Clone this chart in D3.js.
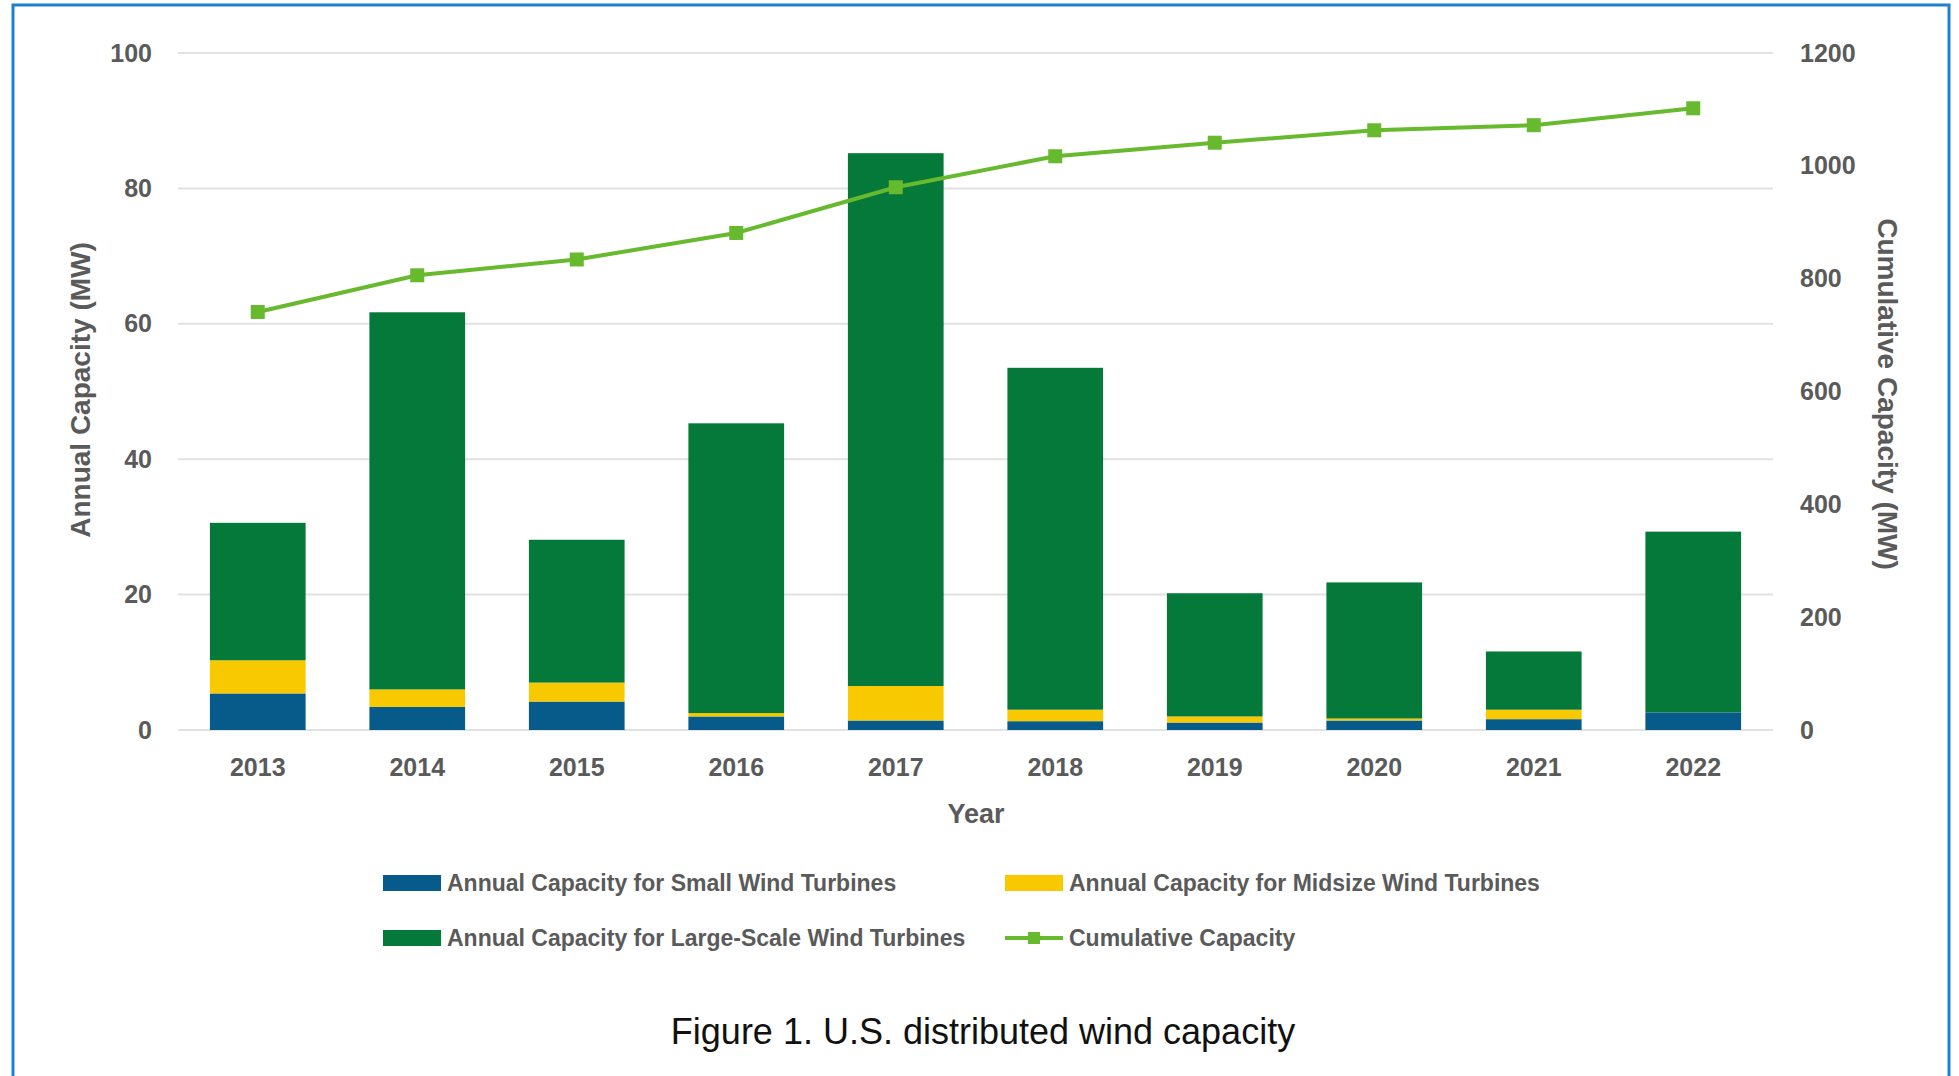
<!DOCTYPE html>
<html>
<head>
<meta charset="utf-8">
<script src="https://d3js.org/d3.v7.min.js"></script>
<style>
  body { margin: 0; background: #fff; }
  svg text { font-family: "Liberation Sans", Arial, sans-serif; }
</style>
</head>
<body>
<script>
var years = ['2013', '2014', '2015', '2016', '2017', '2018', '2019', '2020', '2021', '2022'];
var smallWind = [5.4, 3.4, 4.2, 2.0, 1.4, 1.3, 1.1, 1.4, 1.6, 2.6];
var midsizeWind = [4.9, 2.6, 2.8, 0.5, 5.1, 1.7, 0.9, 0.3, 1.4, 0.0];
var largeWind = [20.3, 55.7, 21.1, 42.8, 78.7, 50.5, 18.2, 20.1, 8.6, 26.7];
var cumulative = [741, 806, 834, 881, 962, 1017, 1041, 1063, 1072, 1102];
var leftTicks = [0, 20, 40, 60, 80, 100];
var rightTicks = [0, 200, 400, 600, 800, 1000, 1200];

var seriesNames = [
  'Annual Capacity for Small Wind Turbines',
  'Annual Capacity for Midsize Wind Turbines',
  'Annual Capacity for Large-Scale Wind Turbines'
];
var lineName = 'Cumulative Capacity';
var colors = ['#065b8b', '#f9c900', '#05793a'];
var lineColor = '#67b92e';
var textColor = '#5a5a5a';

var W = 1959, H = 1076;
var plotL = 178, plotR = 1773, plotT = 53, plotB = 730;

var svg = d3.select('body').append('svg')
  .attr('width', W)
  .attr('height', H);

// frame
svg.append('rect')
  .attr('x', 13).attr('y', 5)
  .attr('width', 1936).attr('height', 1100)
  .attr('fill', 'none')
  .attr('stroke', '#1f80d2')
  .attr('stroke-width', 3);

var x = d3.scaleBand().domain(years).range([plotL, plotR]).paddingInner(0.4).paddingOuter(0.2);
var y = d3.scaleLinear().domain([0, 100]).range([plotB, plotT]);
var y2 = d3.scaleLinear().domain([0, 1200]).range([plotB, plotT]);

// gridlines
svg.append('g').selectAll('line')
  .data(leftTicks)
  .enter().append('line')
    .attr('x1', plotL).attr('x2', plotR)
    .attr('y1', function(d) { return y(d); })
    .attr('y2', function(d) { return y(d); })
    .attr('stroke', '#e2e2e2')
    .attr('stroke-width', 2);

// stacked bars
var table = years.map(function(yr, i) {
  return { year: yr, s: smallWind[i], m: midsizeWind[i], l: largeWind[i] };
});
var stack = d3.stack().keys(['s', 'm', 'l'])(table);

svg.append('g').selectAll('g')
  .data(stack)
  .enter().append('g')
    .attr('fill', function(d, i) { return colors[i]; })
  .selectAll('rect')
  .data(function(d) { return d; })
  .enter().append('rect')
    .attr('x', function(d) { return x(d.data.year); })
    .attr('width', x.bandwidth())
    .attr('y', function(d) { return y(d[1]); })
    .attr('height', function(d) { return y(d[0]) - y(d[1]); });

// cumulative line
var line = d3.line()
  .x(function(d, i) { return x(years[i]) + x.bandwidth() / 2; })
  .y(function(d) { return y2(d); });

svg.append('path')
  .datum(cumulative)
  .attr('d', line)
  .attr('fill', 'none')
  .attr('stroke', lineColor)
  .attr('stroke-width', 4);

svg.append('g').selectAll('rect')
  .data(cumulative)
  .enter().append('rect')
    .attr('x', function(d, i) { return x(years[i]) + x.bandwidth() / 2 - 7; })
    .attr('y', function(d) { return y2(d) - 7; })
    .attr('width', 14)
    .attr('height', 14)
    .attr('fill', lineColor);

// axes
var axisL = svg.append('g')
  .attr('transform', 'translate(' + plotL + ',0)')
  .call(d3.axisLeft(y).tickValues(leftTicks).tickSize(0).tickPadding(26));
var axisR = svg.append('g')
  .attr('transform', 'translate(' + plotR + ',0)')
  .call(d3.axisRight(y2).tickValues(rightTicks).tickFormat(d3.format('d')).tickSize(0).tickPadding(27));
var axisB = svg.append('g')
  .attr('transform', 'translate(0,' + plotB + ')')
  .call(d3.axisBottom(x).tickSize(0).tickPadding(28));

[axisL, axisR, axisB].forEach(function(a) {
  a.select('.domain').remove();
  a.selectAll('text')
    .attr('fill', textColor)
    .style('font-size', '25px')
    .style('font-weight', 'bold')
    .style('font-family', '"Liberation Sans", Arial, sans-serif');
});

// axis titles
svg.append('text')
  .attr('transform', 'translate(90,390) rotate(-90)')
  .attr('text-anchor', 'middle')
  .attr('fill', textColor)
  .style('font-size', '28px')
  .style('font-weight', 'bold')
  .text('Annual Capacity (MW)');

svg.append('text')
  .attr('transform', 'translate(1878,394) rotate(90)')
  .attr('text-anchor', 'middle')
  .attr('fill', textColor)
  .style('font-size', '28px')
  .style('font-weight', 'bold')
  .text('Cumulative Capacity (MW)');

svg.append('text')
  .attr('x', 976).attr('y', 823)
  .attr('text-anchor', 'middle')
  .attr('fill', textColor)
  .style('font-size', '27px')
  .style('font-weight', 'bold')
  .text('Year');

// legend
var legendItems = [
  { name: seriesNames[0], color: colors[0], x: 383, y: 883, kind: 'bar' },
  { name: seriesNames[1], color: colors[1], x: 1005, y: 883, kind: 'bar' },
  { name: seriesNames[2], color: colors[2], x: 383, y: 938, kind: 'bar' },
  { name: lineName, color: lineColor, x: 1005, y: 938, kind: 'line' }
];

var legend = svg.append('g').selectAll('g')
  .data(legendItems)
  .enter().append('g')
    .attr('transform', function(d) { return 'translate(' + d.x + ',' + d.y + ')'; });

legend.filter(function(d) { return d.kind === 'bar'; })
  .append('rect')
    .attr('x', 0).attr('y', -8)
    .attr('width', 58).attr('height', 16)
    .attr('fill', function(d) { return d.color; });

var lineItems = legend.filter(function(d) { return d.kind === 'line'; });
lineItems.append('line')
  .attr('x1', 0).attr('x2', 58)
  .attr('stroke', function(d) { return d.color; })
  .attr('stroke-width', 4);
lineItems.append('rect')
  .attr('x', 23).attr('y', -6)
  .attr('width', 12).attr('height', 12)
  .attr('fill', function(d) { return d.color; });

legend.append('text')
  .attr('x', 64)
  .attr('y', 8)
  .attr('fill', textColor)
  .style('font-size', '23px')
  .style('font-weight', 'bold')
  .text(function(d) { return d.name; });

// caption
svg.append('text')
  .attr('x', 983).attr('y', 1044)
  .attr('text-anchor', 'middle')
  .attr('fill', '#111')
  .style('font-size', '36px')
  .text('Figure 1. U.S. distributed wind capacity');
</script>
</body>
</html>
